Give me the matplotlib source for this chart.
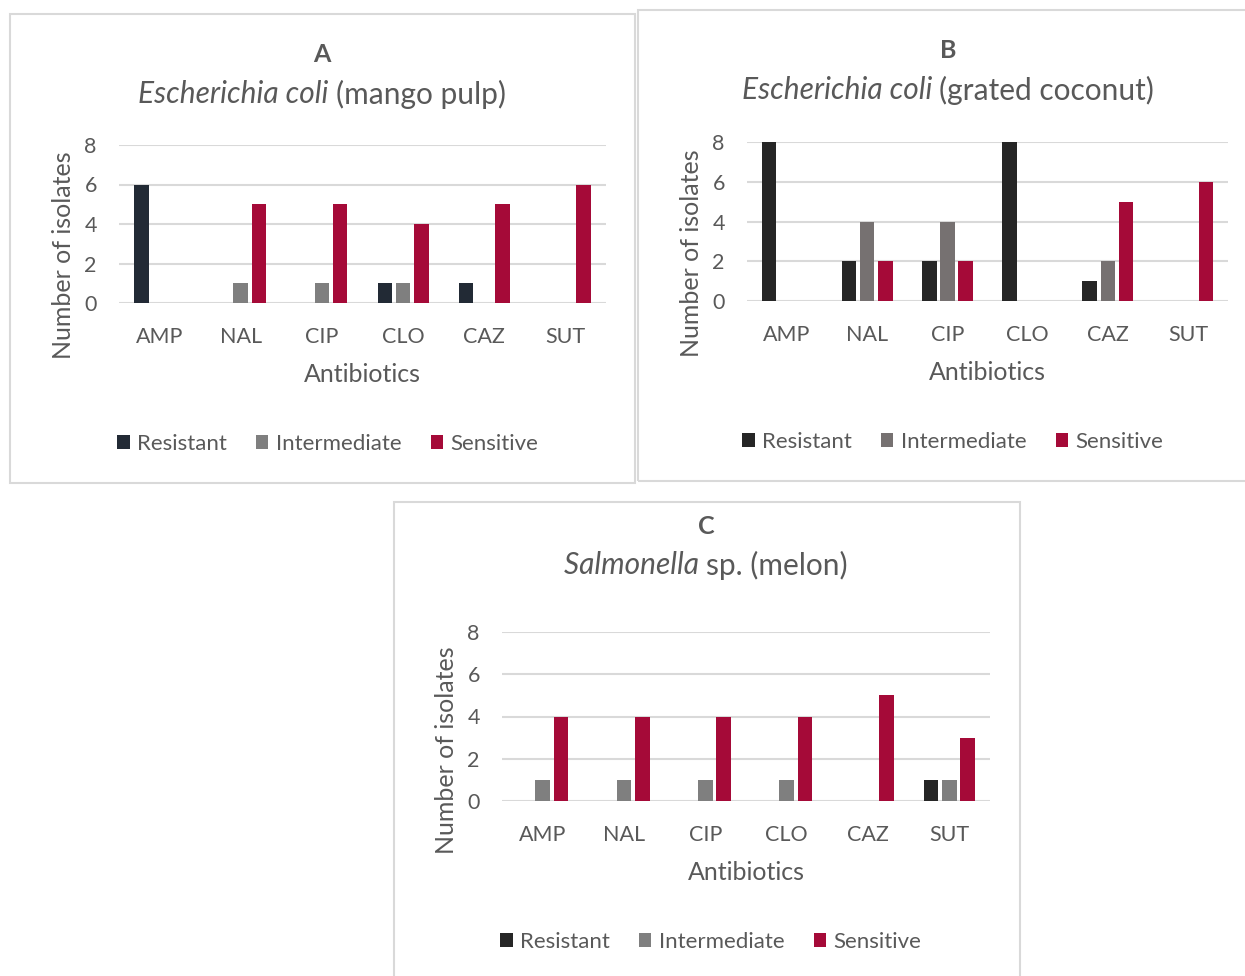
import matplotlib
matplotlib.use("Agg")
import matplotlib.pyplot as plt
from matplotlib.patches import Rectangle, Patch
import numpy as np

plt.rcParams['font.family'] = ['Lato', 'DejaVu Sans']

categories = ['AMP', 'NAL', 'CIP', 'CLO', 'CAZ', 'SUT']
series_names = ['Resistant', 'Intermediate', 'Sensitive']

a_resistant = [6, 0, 0, 1, 1, 0]
a_intermediate = [0, 1, 1, 1, 0, 0]
a_sensitive = [0, 5, 5, 4, 5, 6]

b_resistant = [8, 2, 2, 8, 1, 0]
b_intermediate = [0, 4, 4, 0, 2, 0]
b_sensitive = [0, 2, 2, 0, 5, 6]

c_resistant = [0, 0, 0, 0, 0, 1]
c_intermediate = [1, 1, 1, 1, 0, 1]
c_sensitive = [4, 4, 4, 4, 5, 3]

W, H = 1245, 976
fig = plt.figure(figsize=(W / 100, H / 100), dpi=100)
fig.patch.set_facecolor('white')

txt = '#595959'
grid_col = '#d9d9d9'
red = '#a50a38'


def fx(x):
    return x / W


def fy(y):
    return 1 - y / H


def panel(frame, plot, letter, title_x, title_it, title_rest, title_y, vals, colors, legend_pos):
    # outer frame
    x0, y0, x1, y1 = frame
    fig.patches.append(Rectangle((fx(x0), fy(y1)), fx(x1 - x0), (y1 - y0) / H,
                                 transform=fig.transFigure, fill=False,
                                 edgecolor='#d9d9d9', linewidth=1.5, zorder=0))
    left, right, top, bottom = plot
    ax = fig.add_axes([fx(left), fy(bottom), fx(right - left), (bottom - top) / H])
    x = np.arange(len(categories))
    w = 0.18
    off = 0.225
    for i, (v, c) in enumerate(zip(vals, colors)):
        ax.bar(x + (i - 1) * off, v, width=w, color=c, label=series_names[i], zorder=3)
    ax.set_xlim(-0.5, len(categories) - 0.5)
    ax.set_ylim(0, 8)
    ax.set_yticks([0, 2, 4, 6, 8])
    ax.set_xticks(x)
    ax.set_xticklabels(categories)
    for s in ax.spines.values():
        s.set_visible(False)
    ax.yaxis.grid(True, color=grid_col, linewidth=1.5, zorder=0)
    ax.set_axisbelow(True)
    ax.tick_params(axis='both', length=0, labelsize=15.5, colors=txt)
    ax.tick_params(axis='y', pad=16)
    ax.tick_params(axis='x', pad=17)
    ax.set_xlabel('Antibiotics', fontsize=18, color=txt, labelpad=12)
    # Excel centres the axis title over the plot area incl. category labels
    ax.set_ylabel('Number of isolates', fontsize=18, color=txt, labelpad=7, y=0.3)

    fig.text(fx(title_x), fy(title_y[0]), letter, ha='center', va='center',
             fontsize=18, fontweight='bold', color=txt)
    t1 = fig.text(fx(title_x), fy(title_y[1]), title_it + ' ', ha='right', va='center',
                  fontsize=21.5, style='italic', color=txt)
    fig.canvas.draw()
    r = fig.canvas.get_renderer()
    w1 = t1.get_window_extent(r).width
    t2 = fig.text(fx(title_x), fy(title_y[1]), title_rest, ha='left', va='center',
                  fontsize=21.5, color=txt)
    w2 = t2.get_window_extent(r).width
    shift = (w1 - w2) / 2
    t1.set_x(fx(title_x + shift))
    t2.set_x(fx(title_x + shift))

    handles = [Patch(facecolor=c, edgecolor='none') for c in colors]
    fig.legend(handles, series_names, loc='center',
               bbox_to_anchor=(fx(legend_pos[0]), fy(legend_pos[1])),
               ncol=3, frameon=False, fontsize=16, labelcolor=txt,
               handlelength=0.55, handleheight=0.55, handletextpad=0.35,
               columnspacing=1.3)
    return ax


panel((10, 14, 635, 483), (119, 606, 145, 303), 'A', 322, 'Escherichia coli', '(mango pulp)',
      (55, 94), [a_resistant, a_intermediate, a_sensitive],
      ['#222a35', '#7f7f7f', red], (328, 444))
panel((638, 10, 1252, 481), (747, 1228, 142, 301), 'B', 948, 'Escherichia coli', '(grated coconut)',
      (51, 90), [b_resistant, b_intermediate, b_sensitive],
      ['#262626', '#767171', red], (953, 442))
panel((394, 502, 1020, 985), (502, 990, 632, 801), 'C', 706, 'Salmonella', 'sp. (melon)',
      (527, 565), [c_resistant, c_intermediate, c_sensitive],
      ['#262626', '#7f7f7f', red], (711, 942))

fig.savefig('out.png', dpi=100)
